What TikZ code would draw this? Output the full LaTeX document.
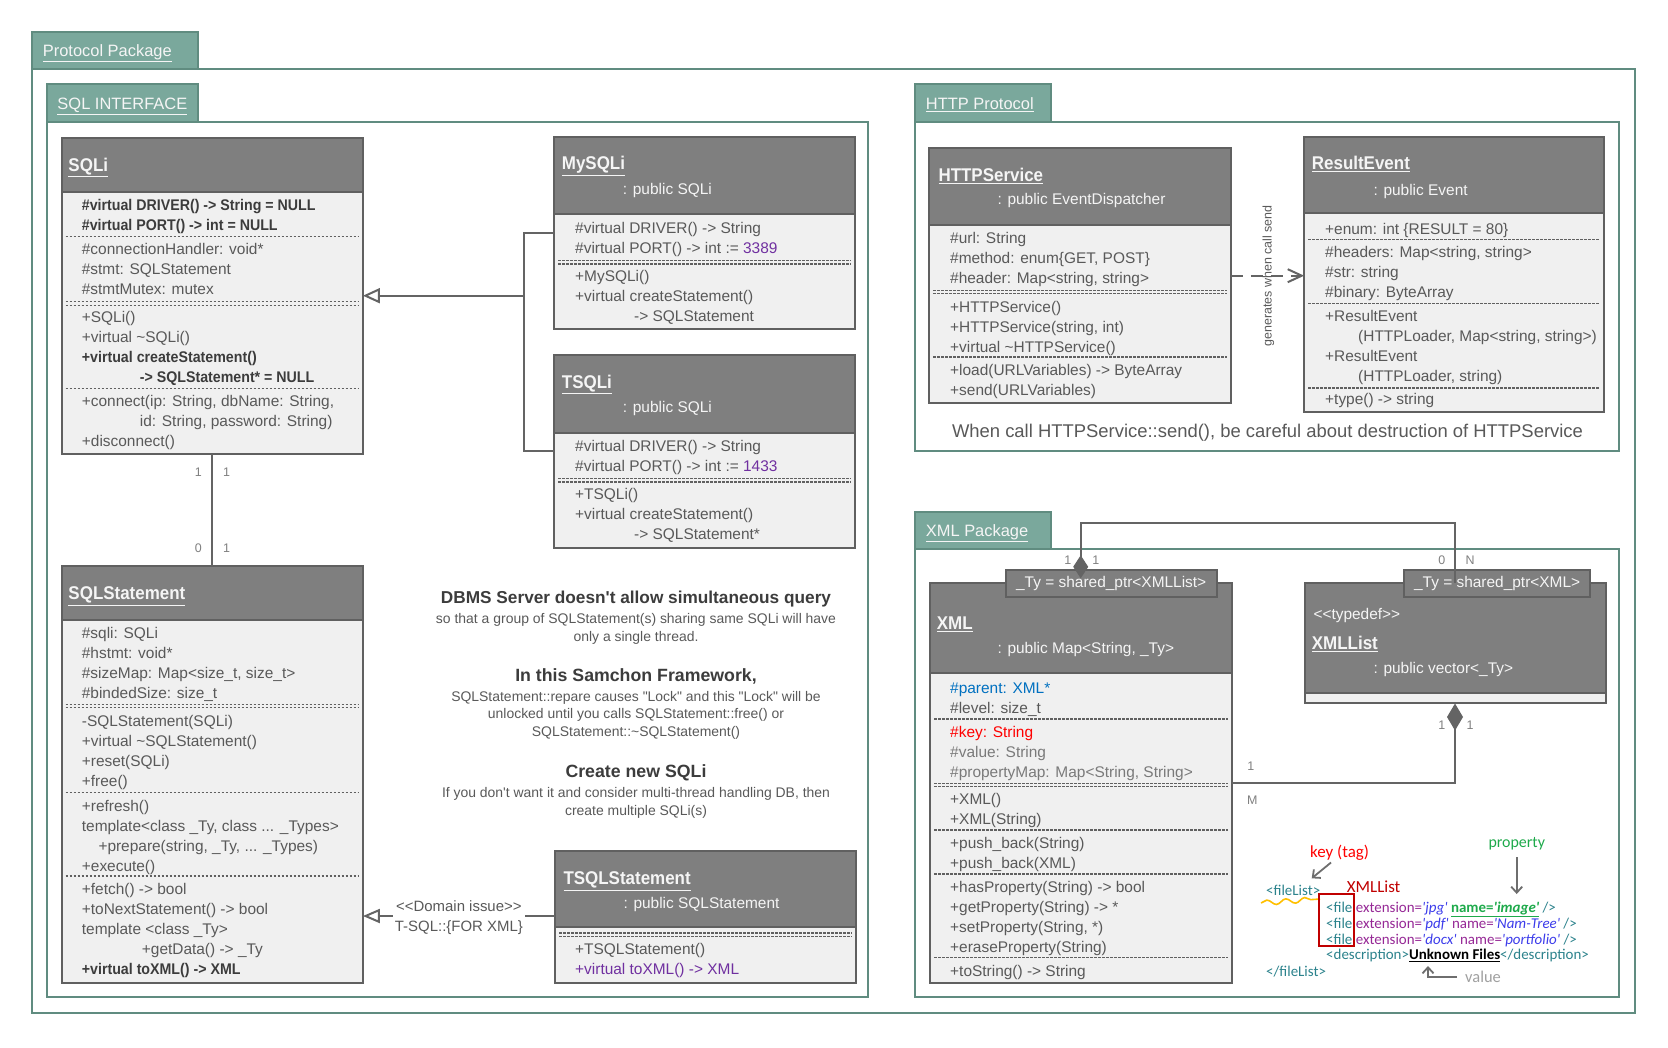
\documentclass[tikz,border=0pt]{standalone}
\usepackage{fontspec}
\setmainfont{Liberation Sans}[Ligatures=TeXOff]
\newfontfamily\condfont{Liberation Sans}[FakeStretch=0.92,Ligatures=TeXOff]
\newfontfamily\calib{Carlito}[Ligatures=TeXOff]
\usetikzlibrary{arrows.meta,fit,decorations.pathmorphing}
\definecolor{tabfill}{RGB}{122,168,156}
\definecolor{framecol}{RGB}{96,140,128}
\definecolor{hdrfill}{RGB}{127,127,127}
\definecolor{bodyfill}{RGB}{240,240,240}
\definecolor{clsline}{RGB}{96,96,96}
\definecolor{connline}{RGB}{100,100,100}
\definecolor{txtgray}{RGB}{89,89,89}
\definecolor{boldtxt}{RGB}{60,60,60}
\definecolor{hdrtext}{RGB}{245,245,245}
\definecolor{multgray}{RGB}{128,128,128}
\definecolor{numpurple}{RGB}{112,48,160}
\definecolor{parentblue}{RGB}{0,112,192}
\definecolor{keyred}{RGB}{255,0,0}
\definecolor{lgray}{RGB}{122,122,122}
\definecolor{xteal}{RGB}{43,130,140}
\definecolor{xpurple}{RGB}{150,40,150}
\definecolor{xblue}{RGB}{60,60,235}
\definecolor{xgreen}{RGB}{30,170,75}
\definecolor{xdred}{RGB}{192,0,0}
\definecolor{xyellow}{RGB}{255,192,0}
\definecolor{arrgray}{RGB}{110,110,110}
\definecolor{valgray}{RGB}{160,160,160}
\newcommand\bcond{\condfont\bfseries\color{boldtxt}}
\newcounter{rowc}
\newcommand\rw[3]{\stepcounter{rowc}\node[rowtxt] (row\arabic{rowc}) at (#1,#2+5.5) {#3};}
\newcommand\hsepl[3]{\draw[sepline] (#1+4,#3) -- (#2-4,#3);}
\newcommand\dsepl[3]{\draw[sepline] (#1+4,#3-1.8) -- (#2-4,#3-1.8); \draw[sepline] (#1+4,#3+1.8) -- (#2-4,#3+1.8);}
\newcommand\umlclass[6]{%
  \fill[bodyfill] (#2,#3) rectangle (#4,#5);
  \fill[hdrfill] (#2,#3) rectangle (#4,#6);
  \draw[clsborder] (#2,#6) -- (#4,#6);
  \draw[clsborder] (#2,#3) rectangle (#4,#5);
  \node[fit={(#2,#3) (#4,#5)}, inner sep=0pt] (#1) {};
}
\tikzset{
 rowtxt/.style={anchor=base west, inner sep=0pt, text=txtgray, font=\fontsize{15.5}{18}\selectfont},
 hdrtxt/.style={anchor=base west, inner sep=0pt, text=hdrtext, font=\fontsize{15.5}{18}\selectfont},
 ttltxt/.style={anchor=base west, inner sep=0pt, text=hdrtext, font=\condfont\bfseries\fontsize{18.5}{20}\selectfont},
 tabtxt/.style={anchor=base west, inner sep=0pt, text=hdrtext, font=\fontsize{16.5}{18}\selectfont},
 mult/.style={inner sep=0pt, text=multgray, font=\fontsize{12.5}{14}\selectfont},
 note/.style={anchor=base, inner sep=0pt, text=txtgray, font=\fontsize{14}{16}\selectfont},
 notehead/.style={anchor=base, inner sep=0pt, text=boldtxt, font=\bfseries\fontsize{17.3}{20}\selectfont},
 conn/.style={draw=connline, line width=2bp},
 clsborder/.style={draw=clsline, line width=2.2bp},
 sepline/.style={draw=clsline, line width=1.1bp, dash pattern=on 2.5bp off 1.5bp},
 frame/.style={draw=framecol, line width=2bp},
 tybox/.style={fill=hdrfill, draw=clsline, line width=2bp, text=hdrtext, font=\fontsize{15.5}{18}\selectfont, inner sep=0pt},
 xmlt/.style={anchor=base west, inner sep=0pt, font=\calib\fontsize{15}{16}\selectfont},
 xarr/.style={draw=arrgray, line width=1.8bp, -{Straight Barb[length=6bp,width=11bp]}},
}
\begin{document}
\begin{tikzpicture}[x=1bp,y=-1bp]
\useasboundingbox (0,0) rectangle (1668,1047);
\fill[white] (0,0) rectangle (1668,1047);

% ---------- packages ----------
\draw[frame] (32,69) rectangle (1635,1013);
\draw[frame,fill=tabfill] (32,32) rectangle (197.7,69);
\node[tabtxt] (tabproto) at (42.7,56.7) {\underline{Protocol Package}};

\draw[frame] (46.7,122) rectangle (868,997);
\draw[frame,fill=tabfill] (46.7,84) rectangle (197.7,122);
\node[tabtxt] (tabsql) at (57.3,109.3) {\underline{SQL INTERFACE}};

\draw[frame] (915,122) rectangle (1619,451);
\draw[frame,fill=tabfill] (915,84) rectangle (1050.7,122);
\node[tabtxt] (tabhttp) at (925.7,109.3) {\underline{HTTP Protocol}};

\draw[frame] (915,549.3) rectangle (1619,997);
\draw[frame,fill=tabfill] (915,511.7) rectangle (1050.7,549.3);
\node[tabtxt] (tabxml) at (925.7,536.3) {\underline{XML Package}};

% ---------- SQLi ----------
\umlclass{sqli}{61.7}{138.3}{362.7}{454}{192.3}
\node[ttltxt] (sqlit) at (68.3,171.6) {\underline{SQLi}};
\rw{81.7}{205}{\bcond\#virtual DRIVER() -> String = NULL}
\rw{81.7}{225}{\bcond\#virtual PORT() -> int = NULL}
\hsepl{61.7}{362.7}{236.7}
\rw{81.7}{249.3}{\#connectionHandler: void*}
\rw{81.7}{269.3}{\#stmt: SQLStatement}
\rw{81.7}{289.3}{\#stmtMutex: mutex}
\dsepl{61.7}{362.7}{303.3}
\rw{81.7}{316.7}{+SQLi()}
\rw{81.7}{336.7}{+virtual \textasciitilde SQLi()}
\rw{81.7}{356.7}{\bcond +virtual createStatement()}
\rw{81.7}{376.7}{\bcond\hspace*{58bp}-> SQLStatement* = NULL}
\hsepl{61.7}{362.7}{388.3}
\rw{81.7}{400.7}{+connect(ip: String, dbName: String,}
\rw{81.7}{420.7}{\hspace*{58bp}id: String, password: String)}
\rw{81.7}{440.7}{+disconnect()}

% ---------- MySQLi ----------
\umlclass{mysqli}{554.3}{136.7}{855.3}{329.3}{214}
\node[ttltxt] (mysqlit) at (561.7,169.9) {\underline{MySQLi}};
\node[hdrtxt] (mysqlip) at (622.7,194.8) {: public SQLi};
\rw{575}{227.7}{\#virtual DRIVER() -> String}
\rw{575}{247.7}{\#virtual PORT() -> int := {\color{numpurple}3389}}
\dsepl{554.3}{855.3}{262.2}
\rw{575}{275.7}{+MySQLi()}
\rw{575}{295.7}{+virtual createStatement()}
\rw{575}{315.7}{\hspace*{59bp}-> SQLStatement}

% ---------- TSQLi ----------
\umlclass{tsqli}{554.3}{355}{855.3}{547.7}{432.7}
\node[ttltxt] (tsqlit) at (561.7,388.3) {\underline{TSQLi}};
\node[hdrtxt] (tsqlip) at (622.7,412.2) {: public SQLi};
\rw{575}{446}{\#virtual DRIVER() -> String}
\rw{575}{466}{\#virtual PORT() -> int := {\color{numpurple}1433}}
\dsepl{554.3}{855.3}{480.2}
\rw{575}{494}{+TSQLi()}
\rw{575}{514}{+virtual createStatement()}
\rw{575}{534}{\hspace*{59bp}-> SQLStatement*}

% ---------- SQLStatement ----------
\umlclass{sqlstmt}{61.7}{566}{362.7}{983.3}{620}
\node[ttltxt] (sqlstmtt) at (68.3,599.9) {\underline{SQLStatement}};
\rw{81.7}{632.7}{\#sqli: SQLi}
\rw{81.7}{652.7}{\#hstmt: void*}
\rw{81.7}{672.7}{\#sizeMap: Map<size\_t, size\_t>}
\rw{81.7}{692.7}{\#bindedSize: size\_t}
\dsepl{61.7}{362.7}{706}
\rw{81.7}{721}{-SQLStatement(SQLi)}
\rw{81.7}{741}{+virtual \textasciitilde SQLStatement()}
\rw{81.7}{761}{+reset(SQLi)}
\rw{81.7}{781}{+free()}
\hsepl{61.7}{362.7}{792.3}
\rw{81.7}{805.7}{+refresh()}
\rw{81.7}{825.7}{template<class \_Ty, class ... \_Types>}
\rw{81.7}{845.7}{\hspace*{16.6bp}+prepare(string, \_Ty, ... \_Types)}
\rw{81.7}{865.7}{+execute()}
\hsepl{61.7}{362.7}{876}
\rw{81.7}{889.3}{+fetch() -> bool}
\rw{81.7}{909.3}{+toNextStatement() -> bool}
\rw{81.7}{929.3}{template <class \_Ty>}
\rw{81.7}{949.3}{\hspace*{60bp}+getData() -> \_Ty}
\rw{81.7}{969.3}{\bcond +virtual toXML() -> XML}

% ---------- TSQLStatement ----------
\umlclass{tsqlstmt}{555}{850.7}{855.7}{982.7}{927.3}
\node[ttltxt] (tsqlstmtt) at (563.3,884.9) {\underline{TSQLStatement}};
\node[hdrtxt] (tsqlstmtp) at (623.3,908.2) {: public SQLStatement};
\dsepl{555}{855.7}{934.8}
\rw{575}{949.3}{+TSQLStatement()}
\rw{575}{969.3}{{\color{numpurple}+virtual toXML() -> XML}}

% ---------- HTTPService ----------
\umlclass{https}{929.3}{147.7}{1230.7}{403.3}{225}
\node[ttltxt] (httpst) at (938.3,181.6) {\underline{HTTPService}};
\node[hdrtxt] (httpsp) at (997.3,204.5) {: public EventDispatcher};
\rw{950}{238.3}{\#url: String}
\rw{950}{258.3}{\#method: enum\{GET, POST\}}
\rw{950}{278.3}{\#header: Map<string, string>}
\dsepl{929.3}{1230.7}{292}
\rw{950}{306.7}{+HTTPService()}
\rw{950}{326.7}{+HTTPService(string, int)}
\rw{950}{346.7}{+virtual \textasciitilde HTTPService()}
\hsepl{929.3}{1230.7}{357}
\rw{950}{370}{+load(URLVariables) -> ByteArray}
\rw{950}{390}{+send(URLVariables)}

% ---------- ResultEvent ----------
\umlclass{resev}{1304.3}{137.3}{1604}{411.7}{213.3}
\node[ttltxt] (resevt) at (1311.7,169.9) {\underline{ResultEvent}};
\node[hdrtxt] (resevp) at (1373.3,195.5) {: public Event};
\rw{1325}{229}{+enum: int \{RESULT = 80\}}
\hsepl{1304.3}{1604}{239.3}
\rw{1325}{252.3}{\#headers: Map<string, string>}
\rw{1325}{272.3}{\#str: string}
\rw{1325}{292.3}{\#binary: ByteArray}
\hsepl{1304.3}{1604}{303.3}
\rw{1325}{315.7}{+ResultEvent}
\rw{1325}{335.7}{\hspace*{33bp}(HTTPLoader, Map<string, string>)}
\rw{1325}{355.7}{+ResultEvent}
\rw{1325}{375.7}{\hspace*{33bp}(HTTPLoader, string)}
\hsepl{1304.3}{1604}{388}
\rw{1325}{399.3}{+type() -> string}

\node[anchor=base, inner sep=0pt, text=txtgray, font=\fontsize{18.5}{20}\selectfont] (httpnote) at (1267.5,437) {When call HTTPService::send(), be careful about destruction of HTTPService};

% ---------- XML ----------
\umlclass{xml}{930}{583.3}{1231.7}{983.3}{673.3}
\node[tybox, minimum width=211bp, minimum height=27.3bp] (xmlty) at (1111.2,583.65) {\_Ty = shared\_ptr<XMLList>};
\node[ttltxt] (xmlt) at (936.7,629.9) {\underline{XML}};
\node[hdrtxt] (xmlp) at (997.3,653.8) {: public Map<String, \_Ty>};
\rw{950}{687.7}{{\color{parentblue}\#parent: XML*}}
\rw{950}{707.7}{\#level: size\_t}
\hsepl{930}{1231.7}{719}
\rw{950}{731.7}{{\color{keyred}\#key: String}}
\rw{950}{751.7}{{\color{lgray}\#value: String}}
\rw{950}{771.7}{{\color{lgray}\#propertyMap: Map<String, String>}}
\dsepl{930}{1231.7}{785}
\rw{950}{799.3}{+XML()}
\rw{950}{819.3}{+XML(String)}
\hsepl{930}{1231.7}{830}
\rw{950}{843.3}{+push\_back(String)}
\rw{950}{863.3}{+push\_back(XML)}
\hsepl{930}{1231.7}{874}
\rw{950}{886.7}{+hasProperty(String) -> bool}
\rw{950}{906.7}{+getProperty(String) -> *}
\rw{950}{926.7}{+setProperty(String, *)}
\rw{950}{946.7}{+eraseProperty(String)}
\hsepl{930}{1231.7}{957.7}
\rw{950}{970.7}{+toString() -> String}

% ---------- XMLList ----------
\umlclass{xmllist}{1305}{583.3}{1605.7}{703.3}{692.7}
\node[tybox, minimum width=185.7bp, minimum height=27.3bp] (xmllty) at (1497.15,583.65) {\_Ty = shared\_ptr<XML>};
\node[hdrtxt] (xmllistd) at (1313.3,619.5) {<<typedef>>};
\node[ttltxt] (xmllistt) at (1311.7,649.9) {\underline{XMLList}};
\node[hdrtxt] (xmllistp) at (1373.3,673.8) {: public vector<\_Ty>};

% ---------- connectors ----------
\coordinate (jn) at (524.4,295.7);
\coordinate (my1) at (0,232.7);
\coordinate (ts1) at (0,451);
\draw[conn] (mysqli.west |- my1) -- (jn |- my1) -- (jn |- ts1) -- (tsqli.west |- ts1);
\draw[conn, -{Triangle[length=17bp,width=15bp,fill=white]}] (jn) -- (sqli.east |- jn);

\coordinate (sqlx) at (212,0);
\draw[conn] (sqli.south -| sqlx) -- (sqlstmt.north -| sqlx);
\node[mult] (m1) at (198.3,472.3) {1};
\node[mult] (m2) at (226.7,472.3) {1};
\node[mult] (m3) at (198.3,548.3) {0};
\node[mult] (m4) at (226.7,548.3) {1};

\coordinate (dm) at (0,916);
\draw[conn, -{Triangle[length=17bp,width=14bp,fill=white]}] (tsqlstmt.west |- dm) -- node[fill=white, inner xsep=2bp, inner ysep=0pt, yshift=-1.5bp, align=center, text=txtgray, font=\fontsize{15}{20.5}\selectfont] (dlabel) {<<Domain issue>>\\T-SQL::\{FOR XML\}} (sqlstmt.east |- dm);

\coordinate (gy) at (0,275.7);
\draw[conn, dash pattern=on 12bp off 8bp, -{Straight Barb[length=14bp,width=13bp]}] (https.east |- gy) -- (resev.west |- gy);
\node[rotate=90, inner sep=0pt, text=txtgray, font=\fontsize{12.5}{14}\selectfont] (gen) at (1268.3,276) {generates when call send};

\coordinate (dtop) at (1080.7,578.3);
\coordinate (ty) at (0,523.3);
\coordinate (rx) at (1455,0);
\coordinate (xr) at (0,783.3);
\draw[conn, {Diamond[length=23bp,width=15bp]}-] (dtop) -- (dtop |- ty) -| (xmllist.north -| rx);
\draw[conn, {Diamond[length=27bp,width=16bp]}-] (xmllist.south -| rx) -- (rx |- xr) -- (xml.east |- xr);
\node[mult] (m5) at (1067.7,560) {1};
\node[mult] (m6) at (1095.7,560) {1};
\node[mult] (m7) at (1441.7,560) {0};
\node[mult] (m8) at (1470,560) {N};
\node[mult] (m9) at (1441.7,725) {1};
\node[mult] (m10) at (1470,725) {1};
\node[mult] (m11) at (1250.7,766.7) {1};
\node[mult] (m12) at (1252.3,800) {M};

% ---------- DBMS notes ----------
\node[notehead] (n1) at (636,603) {DBMS Server doesn't allow simultaneous query};
\node[note] (n2) at (636,623) {so that a group of SQLStatement(s) sharing same SQLi will have};
\node[note] (n3) at (636,641.2) {only a single thread.};
\node[notehead, font=\bfseries\fontsize{17.8}{20}\selectfont] (n4) at (636,681.8) {In this Samchon Framework,};
\node[note] (n5) at (636,701.8) {SQLStatement::repare causes "Lock" and this "Lock" will be};
\node[note] (n6) at (636,718.8) {unlocked until you calls SQLStatement::free() or};
\node[note] (n7) at (636,736.9) {SQLStatement::\textasciitilde SQLStatement()};
\node[notehead, font=\bfseries\fontsize{17.8}{20}\selectfont] (n8) at (636,777.6) {Create new SQLi};
\node[note] (n9) at (636,797.5) {If you don't want it and consider multi-thread handling DB, then};
\node[note] (n10) at (636,815.6) {create multiple SQLi(s)};

% ---------- XML example ----------
\node[xmlt, text=keyred, font=\calib\fontsize{17}{18}\selectfont] (keytag) at (1310,857.5) {key (tag)};
\node[xmlt, text=xgreen, font=\calib\fontsize{16}{18}\selectfont] (prop) at (1488.3,847.3) {property};
\node[xmlt, text=xdred, font=\calib\fontsize{17}{18}\selectfont] (xllab) at (1346.7,892.5) {XMLList};
\node[xmlt, text=xteal] (fl1) at (1266,895.5) {<fileList>};
\node[xmlt] (xr1) at (1326,912.1) {{\color{xteal}<file} {\color{xpurple}extension=}{\color{xblue}\itshape 'jpg'} {\color{xgreen}\bfseries\underline{name=\itshape 'image'}} {\color{xteal}/>}};
\node[xmlt] (xr2) at (1326,928.1) {{\color{xteal}<file} {\color{xpurple}extension=}{\color{xblue}\itshape 'pdf'} {\color{xpurple}name=}{\color{xblue}\itshape 'Nam-Tree'} {\color{xteal}/>}};
\node[xmlt] (xr3) at (1326,944.1) {{\color{xteal}<file} {\color{xpurple}extension=}{\color{xblue}\itshape 'docx'} {\color{xpurple}name=}{\color{xblue}\itshape 'portfolio'} {\color{xteal}/>}};
\node[xmlt] (xr4) at (1326,959.8) {{\color{xteal}<description>}{\color{black}\bfseries\underline{Unknown Files}}{\color{xteal}</description>}};
\node[xmlt, text=xteal] (fl2) at (1266,976.5) {</fileList>};
\node[xmlt, text=valgray, font=\calib\fontsize{16.5}{18}\selectfont] (val) at (1465,982.5) {value};
\draw[xyellow, line width=1.6bp, decorate, decoration={snake, amplitude=2.5bp, segment length=19bp}] (1261,903) -- (1320,899);
\draw[xdred, line width=2bp] (1319.3,894) rectangle (1354,946);
\coordinate (ka) at (1331,862.5);
\coordinate (kb) at (1311.7,878.3);
\draw[xarr] (ka) -- (kb);
\coordinate (pa) at (1516.7,857);
\coordinate (pb) at (1516.7,894);
\draw[xarr] (pa) -- (pb);
\coordinate (va) at (1457,977);
\coordinate (vb) at (1428,966);
\draw[xarr] (va) -| (vb);
\end{tikzpicture}
\end{document}
